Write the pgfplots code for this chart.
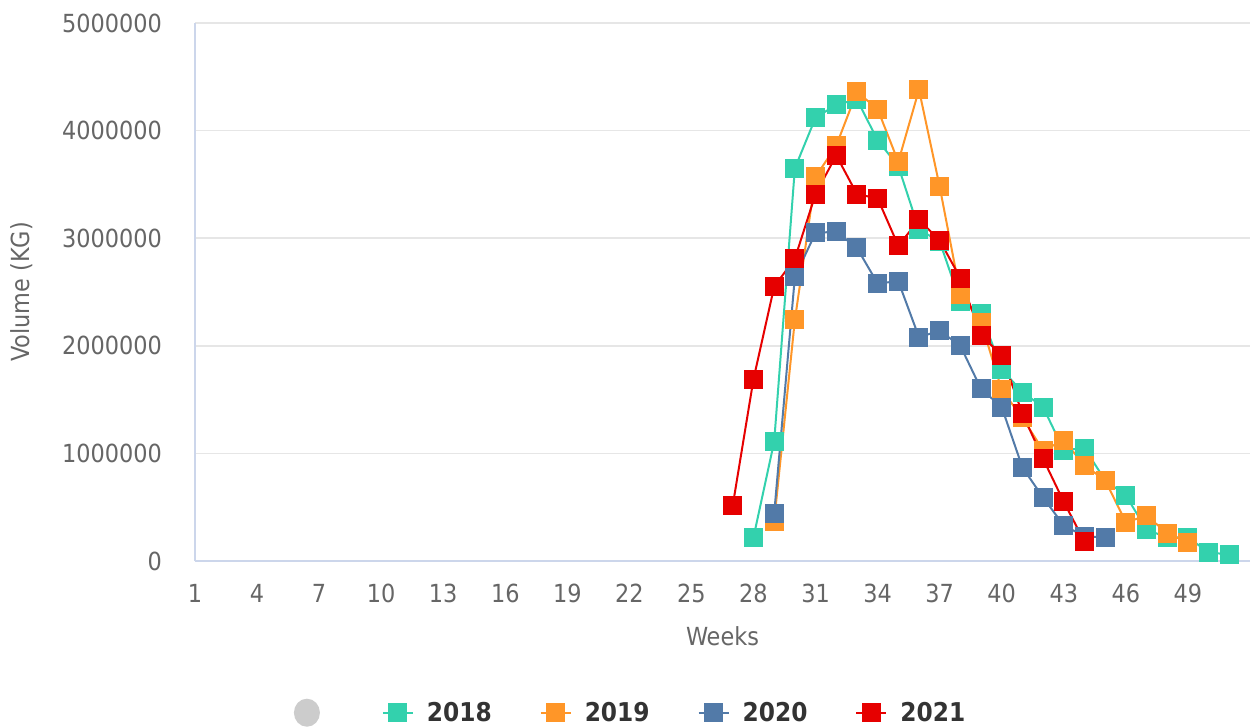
\documentclass[border=0pt]{standalone}
\usepackage{fontspec}
\setmainfont{DejaVu Sans Condensed}
\usepackage{pgfplots}
\pgfplotsset{compat=1.18}
\definecolor{cA}{RGB}{51,209,173}
\definecolor{cB}{RGB}{255,150,40}
\definecolor{cC}{RGB}{82,122,168}
\definecolor{cD}{RGB}{230,0,0}
\definecolor{axc}{HTML}{CCD6EB}
\definecolor{gridc}{HTML}{E6E6E6}
\definecolor{labc}{HTML}{666666}
\definecolor{txtc}{HTML}{333333}
\definecolor{circc}{HTML}{CCCCCC}
\begin{document}
\begin{tikzpicture}
\useasboundingbox (-195bp,-167bp) rectangle (1056bp,561bp);
\begin{axis}[
  scale only axis, width=1055bp, height=538bp,
  xmin=1, xmax=52, ymin=0, ymax=5000000,
  xtick={1,4,...,49}, ytick={0,1000000,...,5000000},
  axis x line=bottom, axis y line=left,
  axis line style={draw=axc, line width=1.5bp, -},
  ymajorgrids, grid style={draw=gridc, line width=1.5bp},
  major tick length=0pt,
  scaled y ticks=false,
  /pgf/number format/fixed, /pgf/number format/1000 sep={},
  /pgf/number format/assume math mode=true,
  tick label style={font=\fontsize{25}{30}\selectfont, text=labc},
  yticklabel style={anchor=east, inner sep=0pt, xshift=-33bp},
  xticklabel style={anchor=north, inner sep=0pt, yshift=-23bp},
  xlabel={Weeks}, ylabel={Volume (KG)},
  label style={font=\fontsize{25}{30}\selectfont, text=labc},
  xlabel style={at={(axis description cs:0.5,-0.139)}, anchor=center},
  ylabel style={at={(axis description cs:-0.164,0.5)}, anchor=center},
  legend columns=5,
  legend style={at={(axis description cs:0.412,-0.282)}, anchor=center,
    draw=none, fill=none, inner sep=0pt,
    nodes={inner sep=0pt, text=txtc, font=\bfseries\fontsize{26}{30}\selectfont},
    /tikz/every odd column/.style={column sep=13bp},
    /tikz/every even column/.style={column sep=48bp}},
  legend image code/.code={\draw[mark repeat=2,mark phase=2,#1] plot coordinates {(0bp,0bp) (15bp,0bp) (30bp,0bp)};},
  every axis plot/.append style={line width=2bp, mark=square*, mark size=8.5bp, mark options={solid}},
]
\addlegendimage{legend image code/.code={\fill[circc] (15bp,0bp) ellipse (12bp and 13bp);}}
\addlegendentry{}
\addplot[color=cA] coordinates {
(28,220000) (29,1110000) (30,3650000) (31,4120000) (32,4240000) (33,4290000)
(34,3910000) (35,3670000) (36,3080000) (37,2970000) (38,2410000) (39,2300000)
(40,1780000) (41,1570000) (42,1430000) (43,1030000) (44,1050000) (45,750000)
(46,610000) (47,290000) (48,220000) (49,220000) (50,80000) (51,60000)};
\addlegendentry{2018}
\addplot[color=cB] coordinates {
(29,370000) (30,2240000) (31,3570000) (32,3860000) (33,4360000) (34,4200000)
(35,3710000) (36,4380000) (37,3480000) (38,2480000) (39,2220000) (40,1590000)
(41,1330000) (42,1030000) (43,1120000) (44,890000) (45,750000) (46,360000)
(47,420000) (48,260000) (49,170000)};
\addlegendentry{2019}
\addplot[color=cC] coordinates {
(29,440000) (30,2640000) (31,3050000) (32,3060000) (33,2910000) (34,2580000)
(35,2600000) (36,2080000) (37,2140000) (38,2000000) (39,1600000) (40,1430000)
(41,870000) (42,590000) (43,330000) (44,230000) (45,220000)};
\addlegendentry{2020}
\addplot[color=cD] coordinates {
(27,520000) (28,1690000) (29,2550000) (30,2810000) (31,3410000) (32,3770000)
(33,3410000) (34,3370000) (35,2930000) (36,3170000) (37,2980000) (38,2630000)
(39,2100000) (40,1910000) (41,1370000) (42,950000) (43,550000) (44,180000)};
\addlegendentry{2021}
\end{axis}
\end{tikzpicture}
\end{document}
